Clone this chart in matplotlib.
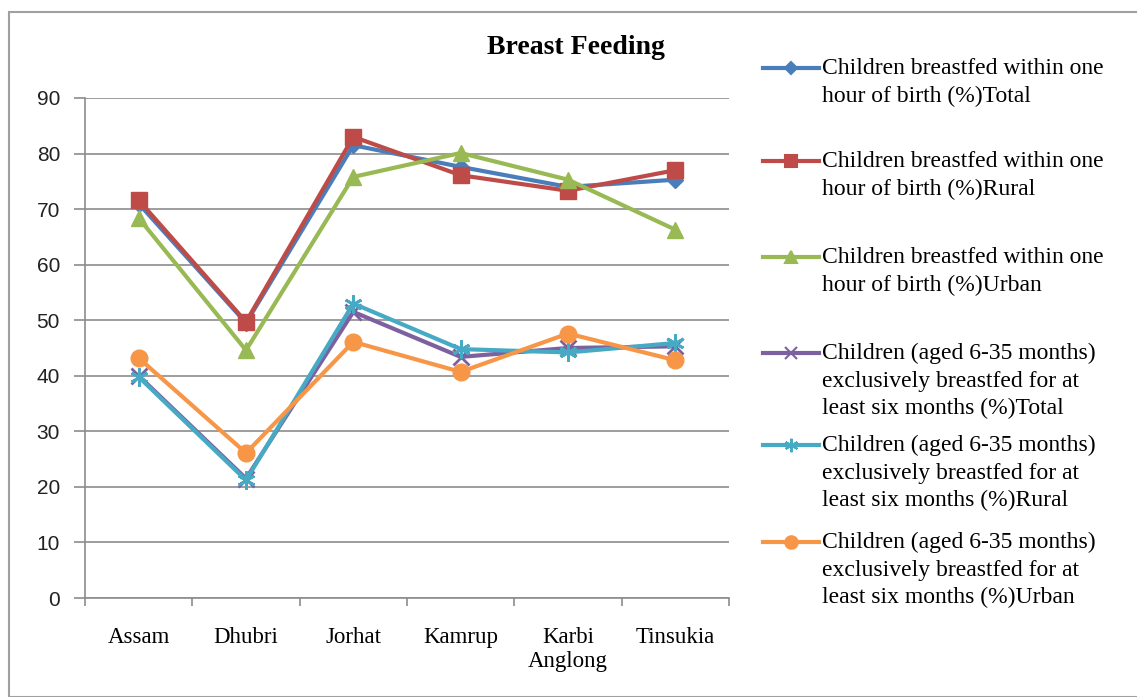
import numpy as np
import matplotlib
matplotlib.use("Agg")
from matplotlib import pyplot as plt
from matplotlib.lines import Line2D
from matplotlib.patches import Rectangle

districts = ["Assam", "Dhubri", "Jorhat", "Kamrup", "Karbi\nAnglong", "Tinsukia"]

hour_total = [71.0, 49.5, 81.5, 77.6, 74.0, 75.3]
hour_rural = [71.6, 49.7, 83.0, 76.1, 73.3, 77.0]
hour_urban = [68.4, 44.6, 75.8, 80.1, 75.3, 66.3]
excl_total = [40.0, 21.5, 51.5, 43.4, 45.0, 45.3]
excl_rural = [39.8, 21.2, 53.0, 44.8, 44.2, 45.9]
excl_urban = [43.2, 26.1, 46.1, 40.7, 47.6, 42.8]

labels = [
    "Children breastfed within one\nhour of birth (%)Total",
    "Children breastfed within one\nhour of birth (%)Rural",
    "Children breastfed within one\nhour of birth (%)Urban",
    "Children (aged 6-35 months)\nexclusively breastfed for at\nleast six months (%)Total",
    "Children (aged 6-35 months)\nexclusively breastfed for at\nleast six months (%)Rural",
    "Children (aged 6-35 months)\nexclusively breastfed for at\nleast six months (%)Urban",
]

series = [hour_total, hour_rural, hour_urban, excl_total, excl_rural, excl_urban]
colors = ["#4A7EBB", "#BE4B48", "#98B954", "#7D60A0", "#46AAC5", "#F79646"]
markers = ["D", "s", "^", "x", (6, 2, 0), "o"]
msizes = [8, 12, 12, 11, 13, 12]

W, H = 1137, 697
fig = plt.figure(figsize=(W / 100, H / 100), dpi=100)

# outer chart border
fig.patches.append(Rectangle((9 / W, 0), 1.1, 1 - 12 / H, transform=fig.transFigure,
                             fill=False, edgecolor="#a0a0a0", linewidth=1.5))

ax = fig.add_axes([85 / W, 1 - 598 / H, (729 - 85) / W, (598 - 98) / H])
x = np.arange(len(districts))
for vals, c, m, ms in zip(series, colors, markers, msizes):
    ax.plot(x, vals, color=c, linewidth=3, marker=m, markersize=ms,
            markeredgewidth=2 if m in ("x",) or isinstance(m, tuple) else 1,
            markeredgecolor=c, markerfacecolor=c)

ax.set_xlim(-0.5, 5.5)
ax.set_ylim(0, 90)
ax.set_yticks(np.arange(0, 91, 10))
ax.yaxis.grid(True, color="#8c8c8c", linewidth=1.2)
ax.set_axisbelow(True)
ax.set_xticks(x)
ax.set_xticklabels(districts, fontfamily="Liberation Serif", fontsize=16.5, linespacing=1.2)
ax.set_xticks(np.arange(-0.5, 6.0, 1), minor=True)
ax.tick_params(axis="x", which="major", length=0, pad=21)
ax.tick_params(axis="x", which="minor", length=6, color="#8c8c8c", width=1.2)
ax.tick_params(axis="y", length=8, color="#8c8c8c", width=1.2, labelsize=15, pad=10)
for lab in ax.get_yticklabels():
    lab.set_fontfamily("Liberation Sans")
    lab.set_color("#222222")
for s in ["top", "right"]:
    ax.spines[s].set_visible(False)
for s in ["left", "bottom"]:
    ax.spines[s].set_color("#8c8c8c")
    ax.spines[s].set_linewidth(1.2)

fig.text(576 / W, 1 - 48 / H, "Breast Feeding", ha="center", va="center",
         fontfamily="Liberation Serif", fontweight="bold", fontsize=20)

# legend drawn by hand so handles line up with first text line
leg_y = [68, 161, 257, 353, 445, 542]
for yy, lab, c, m, ms in zip(leg_y, labels, colors, markers, msizes):
    yf = 1 - yy / H
    fig.add_artist(Line2D([763 / W, 819 / W], [yf, yf], transform=fig.transFigure,
                          color=c, linewidth=3))
    fig.add_artist(Line2D([791 / W], [yf], transform=fig.transFigure, color=c,
                          marker=m, markersize=ms * 0.75, markeredgecolor=c,
                          markeredgewidth=1.5, linestyle="none"))
    fig.text(822 / W, 1 - (yy - 10) / H, lab, ha="left", va="top",
             fontfamily="Liberation Serif", fontsize=17, linespacing=1.4)

fig.savefig("out.png", dpi=100)
